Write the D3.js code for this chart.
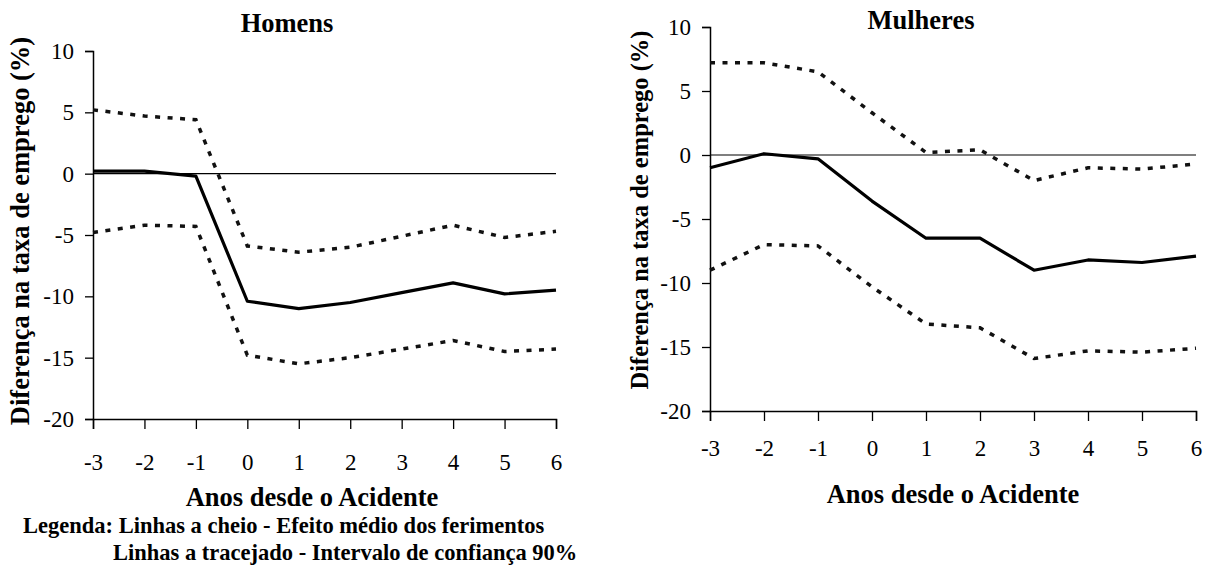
<!DOCTYPE html>
<html><head><meta charset="utf-8">
<script src="https://cdn.jsdelivr.net/npm/d3@7"></script>
<style>body{margin:0;background:#fff}svg{display:block}text{font-family:"Liberation Serif","Times New Roman",Times,"DejaVu Serif",serif;fill:#000}</style>
</head><body>
<svg id="c" width="1216" height="570"></svg>
<script>
const years = [-3,-2,-1,0,1,2,3,4,5,6];
const yTicks = [10,5,0,-5,-10,-15,-20];
const menMean  = [0.2,0.2,-0.2,-10.4,-11.0,-10.5,-9.7,-8.9,-9.8,-9.5];
const menUpper = [5.2,4.7,4.4,-5.9,-6.4,-6.0,-5.1,-4.2,-5.2,-4.7];
const menLower = [-4.8,-4.2,-4.3,-14.8,-15.5,-15.0,-14.3,-13.6,-14.5,-14.3];
const womenMean  = [-1.0,0.1,-0.3,-3.6,-6.5,-6.5,-9.0,-8.2,-8.4,-7.9];
const womenUpper = [7.2,7.2,6.5,3.3,0.2,0.4,-2.0,-1.0,-1.1,-0.7];
const womenLower = [-9.0,-7.0,-7.1,-10.3,-13.2,-13.5,-15.9,-15.3,-15.4,-15.1];
const titles = ["Homens","Mulheres"];
const yLabel = "Diferença na taxa de emprego (%)";
const xLabel = "Anos desde o Acidente";
const legend1 = "Legenda: Linhas a cheio - Efeito médio dos ferimentos";
const legend2 = "Linhas a tracejado - Intervalo de confiança 90%";

const FONT = '"Liberation Serif","Times New Roman",Times,"DejaVu Serif",serif';
const svg = d3.select("#c");
const panels = [
  {title:titles[0], mean:menMean, up:menUpper, lo:menLower, x0:93, x1:556, y0:51, y1:419, xpad:25,
   tx:287, ty:32, ylx:29, yly:231, ylfs:26.5, xlx:312, xly:506},
  {title:titles[1], mean:womenMean, up:womenUpper, lo:womenLower, x0:710, x1:1196, y0:27, y1:411, xpad:19,
   tx:921, ty:29, ylx:648, yly:210, ylfs:24.5, xlx:953, xly:503}
];
const fmt = d => String(d);
panels.forEach(p=>{
  const x = d3.scaleLinear().domain([-3,6]).range([p.x0,p.x1]);
  const y = d3.scaleLinear().domain([10,-20]).range([p.y0,p.y1]);
  const g = svg.append("g");
  const ya = g.append("g").attr("transform",`translate(${p.x0},0)`)
    .call(d3.axisLeft(y).tickValues(yTicks).tickSize(8).tickPadding(11).tickFormat(fmt));
  ya.attr("font-family",FONT).attr("font-size",23);
  ya.select(".domain").attr("stroke","#000").attr("stroke-width",1.5);
  ya.selectAll(".tick line").attr("stroke","#000").attr("stroke-width",1.3);
  ya.selectAll("text").attr("fill","#000");
  const xa = g.append("g").attr("transform",`translate(0,${p.y1})`)
    .call(d3.axisBottom(x).tickValues(years).tickSize(10).tickPadding(p.xpad).tickFormat(fmt));
  xa.attr("font-family",FONT).attr("font-size",23);
  xa.select(".domain").attr("stroke","#000").attr("stroke-width",1.5);
  xa.selectAll(".tick line").attr("stroke","#000").attr("stroke-width",1.3);
  xa.selectAll("text").attr("fill","#000");
  g.append("line").attr("x1",x(-3)).attr("x2",x(6)).attr("y1",y(0)).attr("y2",y(0))
    .attr("stroke","#000").attr("stroke-width",1.2);
  const line = d3.line().x((d,i)=>x(years[i])).y(d=>y(d));
  [p.up,p.lo].forEach(s=>{
    g.append("path").attr("d",line(s)).attr("fill","none").attr("stroke","#111")
      .attr("stroke-width",3.5).attr("stroke-dasharray","5 7.5");
  });
  g.append("path").attr("d",line(p.mean)).attr("fill","none").attr("stroke","#000")
    .attr("stroke-width",3.2).attr("stroke-linejoin","round");
  g.append("text").attr("x",p.tx).attr("y",p.ty).attr("text-anchor","middle")
    .style("font-size","26.5px").style("font-weight","bold").text(p.title);
  g.append("text").attr("transform",`translate(${p.ylx},${p.yly}) rotate(-90)`)
    .attr("text-anchor","middle").style("font-size",p.ylfs+"px").style("font-weight","bold").text(yLabel);
  g.append("text").attr("x",p.xlx).attr("y",p.xly).attr("text-anchor","middle")
    .style("font-size","26.5px").style("font-weight","bold").text(xLabel);
});
svg.append("text").attr("x",23).attr("y",533).style("font-size","22.5px").style("font-weight","bold").text(legend1);
svg.append("text").attr("x",113).attr("y",560).style("font-size","22.5px").style("font-weight","bold").text(legend2);
</script>
</body></html>
